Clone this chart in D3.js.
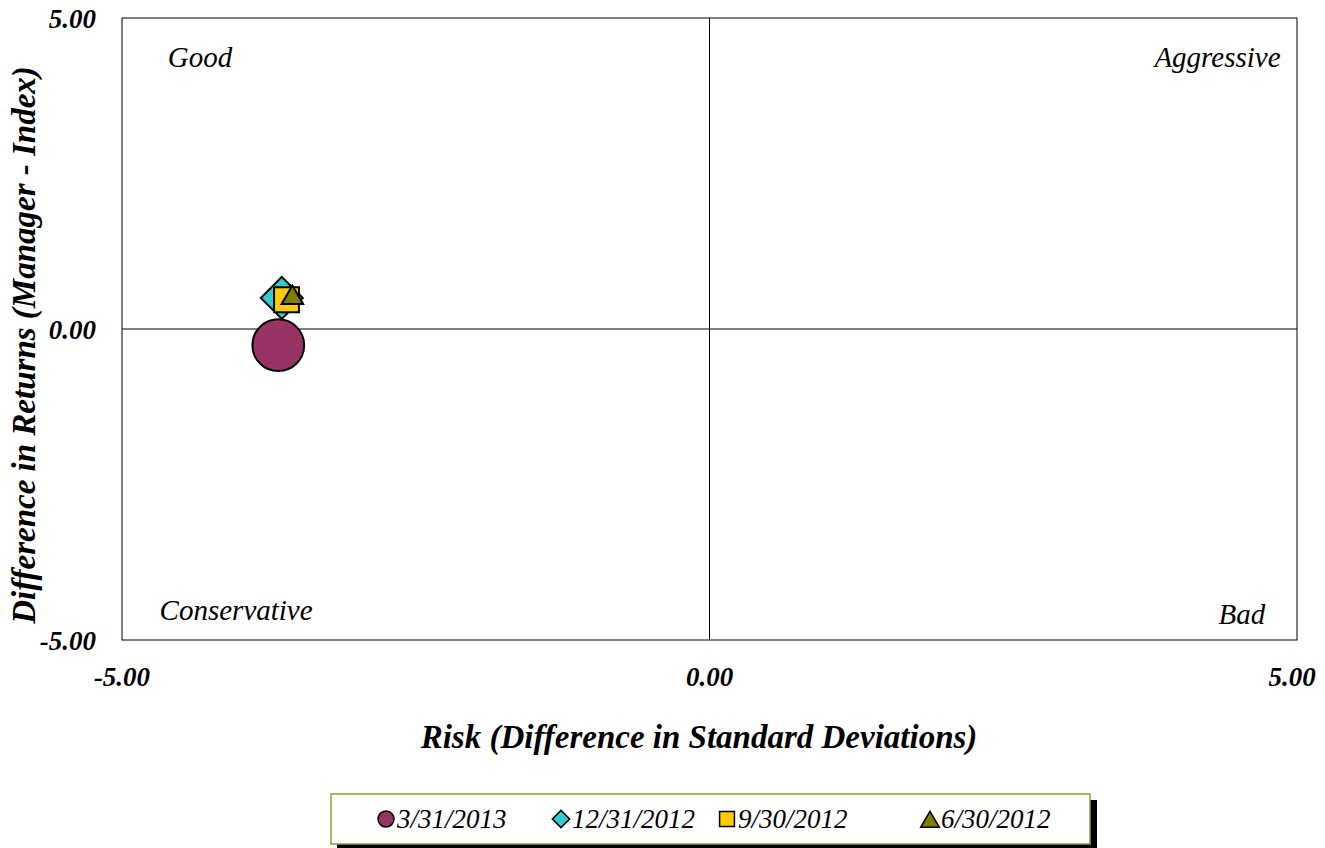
<html>
<head>
  <meta charset="utf-8">
  <script src="https://d3js.org/d3.v7.min.js"></script>
  <style>
  body { margin: 0; background: #fff; }
  text { font-family: "Palatino Linotype", "Book Antiqua", Palatino, "Liberation Serif", serif; }
  .tick-label { font-size: 27px; font-weight: bold; font-style: italic; }
  .axis-title { font-size: 33px; font-weight: bold; font-style: italic; }
  .quad { font-size: 29px; font-style: italic; }
  .legend-text { font-size: 27px; font-style: italic; }
  </style>
</head>
<body>
  <svg id="chart" width="1325" height="848"></svg>
  <script>

  // data
  const periods = ["3/31/2013", "12/31/2012", "9/30/2012", "6/30/2012"];
  const riskValues = [-3.67, -3.64, -3.60, -3.55];
  const returnValues = [-0.26, 0.50, 0.47, 0.50];
  const tickValues = [-5, 0, 5];
  const quadrantLabels = ["Good", "Aggressive", "Conservative", "Bad"];

  const shapes = ["circle", "diamond", "square", "triangle"];
  const colors = ["#993366", "#33CCCC", "#FFCC00", "#808000"];
  const sizes = [2100, 880, 620, 200];

  const svg = d3.select("#chart");
  const plot = { left: 122, right: 1297, top: 18, bottom: 640 };

  const x = d3.scaleLinear().domain([-5, 5]).range([plot.left, plot.right]);
  const y = d3.scaleLinear().domain([-5, 5]).range([plot.bottom, plot.top]);
  const fmt = d => d3.format(".2f")(d).replace("\u2212", "-");

  // frame
  svg.append("rect")
    .attr("x", plot.left).attr("y", plot.top)
    .attr("width", plot.right - plot.left).attr("height", plot.bottom - plot.top)
    .attr("fill", "none").attr("stroke", "#000").attr("stroke-width", 1);

  // zero lines
  svg.append("line")
    .attr("x1", plot.left).attr("x2", plot.right)
    .attr("y1", y(0)).attr("y2", y(0))
    .attr("stroke", "#000");
  svg.append("line")
    .attr("x1", x(0)).attr("x2", x(0))
    .attr("y1", plot.top).attr("y2", plot.bottom)
    .attr("stroke", "#000");

  // tick labels
  svg.selectAll("text.ytick").data(tickValues)
    .join("text")
    .attr("class", "tick-label ytick")
    .attr("x", 96)
    .attr("y", d => y(d) + 10)
    .attr("text-anchor", "end")
    .text(fmt);

  svg.selectAll("text.xtick").data(tickValues)
    .join("text")
    .attr("class", "tick-label xtick")
    .attr("x", d => x(d) - (d === 5 ? 5 : 0))
    .attr("y", 686)
    .attr("text-anchor", "middle")
    .text(fmt);

  // axis titles
  svg.append("text")
    .attr("class", "axis-title")
    .attr("x", 699).attr("y", 748)
    .attr("text-anchor", "middle")
    .text("Risk (Difference in Standard Deviations)");

  svg.append("text")
    .attr("class", "axis-title")
    .attr("transform", "translate(35,345) rotate(-90)")
    .attr("text-anchor", "middle")
    .text("Difference in Returns (Manager - Index)");

  // quadrant labels
  const quadPos = [
    { x: x(-4.61), y: y(4.21), anchor: "start" },
    { x: x(4.86), y: y(4.21), anchor: "end" },
    { x: x(-4.68), y: y(-4.68), anchor: "start" },
    { x: x(4.73), y: y(-4.74), anchor: "end" }
  ];
  svg.selectAll("text.quad").data(quadrantLabels)
    .join("text")
    .attr("class", "quad")
    .attr("x", (d, i) => quadPos[i].x)
    .attr("y", (d, i) => quadPos[i].y)
    .attr("text-anchor", (d, i) => quadPos[i].anchor)
    .text(d => d);

  function symbolFor(shape) {
    if (shape === "circle") return d3.symbolCircle;
    if (shape === "diamond") return d3.symbolSquare;
    if (shape === "square") return d3.symbolSquare;
    return d3.symbolTriangle;
  }

  // points
  const points = periods.map((p, i) => ({ period: p, risk: riskValues[i], ret: returnValues[i], i: i }));
  svg.selectAll("path.point").data(points)
    .join("path")
    .attr("class", "point")
    .attr("d", d => d3.symbol().type(symbolFor(shapes[d.i])).size(sizes[d.i])())
    .attr("transform", d => "translate(" + x(d.risk) + "," + y(d.ret) + ")" + (shapes[d.i] === "diamond" ? " rotate(45)" : ""))
    .attr("fill", d => colors[d.i])
    .attr("stroke", "#000")
    .attr("stroke-width", 2);

  // legend
  const legend = svg.append("g").attr("transform", "translate(331,794)");
  legend.append("rect")
    .attr("x", 6).attr("y", 6).attr("width", 760).attr("height", 50)
    .attr("fill", "#000");
  legend.append("rect")
    .attr("x", 0).attr("y", 0).attr("width", 759).attr("height", 50)
    .attr("fill", "#fff").attr("stroke", "#999933").attr("stroke-width", 1.5);

  const legendX = [55, 230, 396, 599];
  const legendSizes = [200, 150, 220, 150];
  const items = legend.selectAll("g.item").data(periods)
    .join("g")
    .attr("class", "item")
    .attr("transform", (d, i) => "translate(" + legendX[i] + ",25)");
  items.append("path")
    .attr("d", (d, i) => d3.symbol().type(symbolFor(shapes[i])).size(legendSizes[i])())
    .attr("transform", (d, i) => shapes[i] === "diamond" ? "rotate(45)" : (shapes[i] === "triangle" ? "translate(0,3)" : ""))
    .attr("fill", (d, i) => colors[i])
    .attr("stroke", "#000")
    .attr("stroke-width", 1.5);
  items.append("text")
    .attr("class", "legend-text")
    .attr("x", 11).attr("y", 9)
    .text(d => d);

  </script>
</body>
</html>
